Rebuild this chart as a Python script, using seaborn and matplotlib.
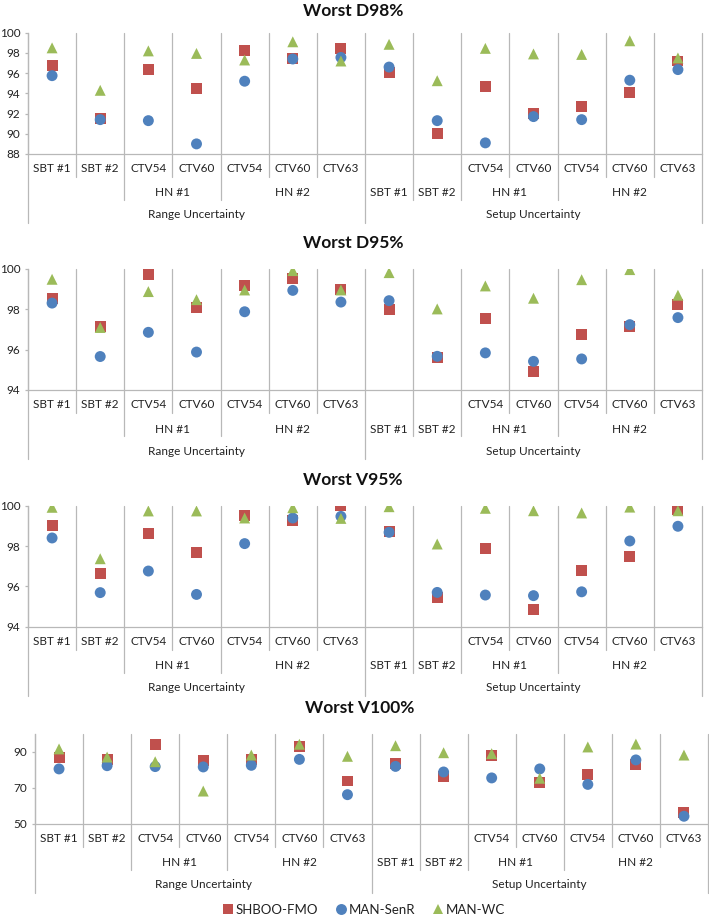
import matplotlib
matplotlib.use("Agg")
import numpy as np
import pandas as pd
import matplotlib.pyplot as plt
import seaborn as sns

# Category axis (three levels, Excel style)
TARGETS = ["SBT #1", "SBT #2", "CTV54", "CTV60", "CTV54", "CTV60", "CTV63",
           "", "", "CTV54", "CTV60", "CTV54", "CTV60", "CTV63"]
SITES = ["", "", "HN #1", "HN #1", "HN #2", "HN #2", "HN #2",
         "SBT #1", "SBT #2", "HN #1", "HN #1", "HN #2", "HN #2", "HN #2"]
SCENARIOS = ["Range Uncertainty"] * 7 + ["Setup Uncertainty"] * 7

METHODS = ["SHBOO-FMO", "MAN-SenR", "MAN-WC"]
COLORS = ["#C0504D", "#4F81BD", "#9BBB59"]
MARKERS = ["s", "o", "^"]

# Values
D98_SHBOO = [96.8, 91.5, 96.4, 94.5, 98.2, 97.45, 98.4, 96.1, 90.0, 94.7, 92.0, 92.7, 94.1, 97.2]
D98_SENR = [95.75, 91.4, 91.3, 89.0, 95.2, 97.4, 97.55, 96.6, 91.3, 89.1, 91.7, 91.4, 95.3, 96.35]
D98_WC = [98.5, 94.3, 98.2, 97.95, 97.3, 99.1, 97.2, 98.85, 95.25, 98.45, 97.9, 97.85, 99.2, 97.5]

D95_SHBOO = [98.55, 97.17, 99.75, 98.08, 99.17, 99.54, 98.99, 98.0, 95.6, 97.54, 94.9, 96.74, 97.16, 98.26]
D95_SENR = [98.31, 95.66, 96.86, 95.88, 97.88, 98.94, 98.36, 98.43, 95.67, 95.84, 95.42, 95.54, 97.24, 97.59]
D95_WC = [99.49, 97.1, 98.88, 98.48, 98.96, 99.92, 98.96, 99.82, 98.02, 99.16, 98.55, 99.47, 99.97, 98.7]

V95_SHBOO = [99.0, 96.64, 98.63, 97.69, 99.5, 99.26, 100.0, 98.74, 95.47, 97.87, 94.86, 96.79, 97.49, 99.8]
V95_SENR = [98.4, 95.69, 96.76, 95.6, 98.12, 99.39, 99.47, 98.68, 95.7, 95.57, 95.54, 95.73, 98.25, 98.98]
V95_WC = [99.92, 97.37, 99.74, 99.74, 99.39, 99.9, 99.37, 99.95, 98.1, 99.87, 99.75, 99.64, 99.93, 99.75]

V100_SHBOO = [87.2, 85.6, 94.3, 85.2, 85.9, 93.3, 73.9, 83.7, 76.3, 87.8, 72.8, 77.4, 83.0, 56.5]
V100_SENR = [80.6, 82.4, 81.9, 81.7, 82.6, 85.9, 66.3, 82.0, 78.9, 75.6, 80.6, 72.0, 85.6, 54.3]
V100_WC = [91.7, 87.2, 84.6, 68.3, 88.3, 94.3, 87.6, 93.5, 89.6, 89.1, 75.4, 92.8, 94.4, 88.3]

W, H = 709, 916
GRID = "#b8b8b8"
TEXT = "#222222"


def make_frame(series):
    """Long table: all squares first, then circles, then triangles"""
    n = len(TARGETS)
    return pd.DataFrame({
        "pos": np.tile(np.arange(n) + 0.5, len(METHODS)),
        "value": np.concatenate(series),
        "method": np.repeat(METHODS, n),
    })


def draw_category_axis(ax, h_px):
    trans = ax.get_xaxis_transform()
    n = len(TARGETS)

    def yf(px):
        return -px / h_px

    for b in range(n + 1):
        if b == 0 or b == n or SCENARIOS[b - 1] != SCENARIOS[b]:
            depth = 69
        elif SITES[b - 1] != SITES[b]:
            depth = 46
        else:
            depth = 23
        ax.plot([b, b], [1, yf(depth)], transform=trans, color=GRID, lw=0.9,
                clip_on=False, zorder=0)

    for i, t in enumerate(TARGETS):
        if t:
            ax.text(i + 0.5, yf(15), t, transform=trans, ha="center", va="center",
                    fontsize=8.5, color=TEXT)

    for labels, off in [(SITES, 39), (SCENARIOS, 61)]:
        i = 0
        while i < n:
            j = i
            while j + 1 < n and labels[j + 1] == labels[i] and SCENARIOS[j + 1] == SCENARIOS[i]:
                j += 1
            if labels[i]:
                ax.text((i + j + 1) / 2, yf(off), labels[i], transform=trans,
                        ha="center", va="center", fontsize=8.5, color=TEXT)
            i = j + 1


def draw_panel(ax, series, ylim, yticks, h_px, legend=False):
    df = make_frame(series)
    sns.scatterplot(data=df, x="pos", y="value", hue="method", style="method",
                    palette=dict(zip(METHODS, COLORS)), markers=dict(zip(METHODS, MARKERS)),
                    s=62, linewidth=0, ax=ax, legend=legend, zorder=3)
    ax.set_xlim(0, len(TARGETS))
    ax.set_ylim(*ylim)
    ax.set_yticks(yticks)
    ax.set_xticks([])
    ax.set_xlabel("")
    ax.set_ylabel("")
    for side in ["top", "right"]:
        ax.spines[side].set_visible(False)
    for side in ["left", "bottom"]:
        ax.spines[side].set_color(GRID)
        ax.spines[side].set_linewidth(0.9)
    ax.tick_params(axis="y", left=True, length=2.5, width=0.9, color=GRID, pad=3,
                   labelsize=8.5, labelcolor=TEXT)
    draw_category_axis(ax, h_px)


sns.set_theme(style="white")
plt.rcParams["font.family"] = ["Lato", "DejaVu Sans"]

fig = plt.figure(figsize=(W / 100, H / 100), dpi=100)

# (left, top, right, bottom) in pixels, title y, title x
panels = [
    ("Worst D98%", [D98_SHBOO, D98_SENR, D98_WC], (88, 100), np.arange(88, 101, 2),
     (28, 32.7, 702, 154), 11, 353),
    ("Worst D95%", [D95_SHBOO, D95_SENR, D95_WC], (94, 100), np.arange(94, 101, 2),
     (28, 269, 702, 390), 243, 353),
    ("Worst V95%", [V95_SHBOO, V95_SENR, V95_WC], (94, 100), np.arange(94, 101, 2),
     (28, 505.7, 702, 626.7), 480, 353),
    ("Worst V100%", [V100_SHBOO, V100_SENR, V100_WC], (50, 100), [50, 70, 90],
     (35, 734, 708, 824), 708, 360),
]

axes = []
for k, (title, series, ylim, yticks, box, ty, tx) in enumerate(panels):
    l, t, r, b = box
    ax = fig.add_axes([l / W, 1 - b / H, (r - l) / W, (b - t) / H])
    draw_panel(ax, series, ylim, yticks, b - t, legend=(k == 0))
    fig.text(tx / W, 1 - ty / H, title, ha="center", va="center", fontsize=12.5,
             fontweight="bold", color="#111111")
    axes.append(ax)

handles, labels = axes[0].get_legend_handles_labels()
axes[0].get_legend().remove()
fig.legend(handles, labels, loc="center", bbox_to_anchor=(363 / W, 6 / H), ncol=3,
           frameon=False, handletextpad=0.1, columnspacing=1.2, fontsize=9.5,
           labelcolor=TEXT, handlelength=1.0)

fig.savefig("out.png", dpi=100)
